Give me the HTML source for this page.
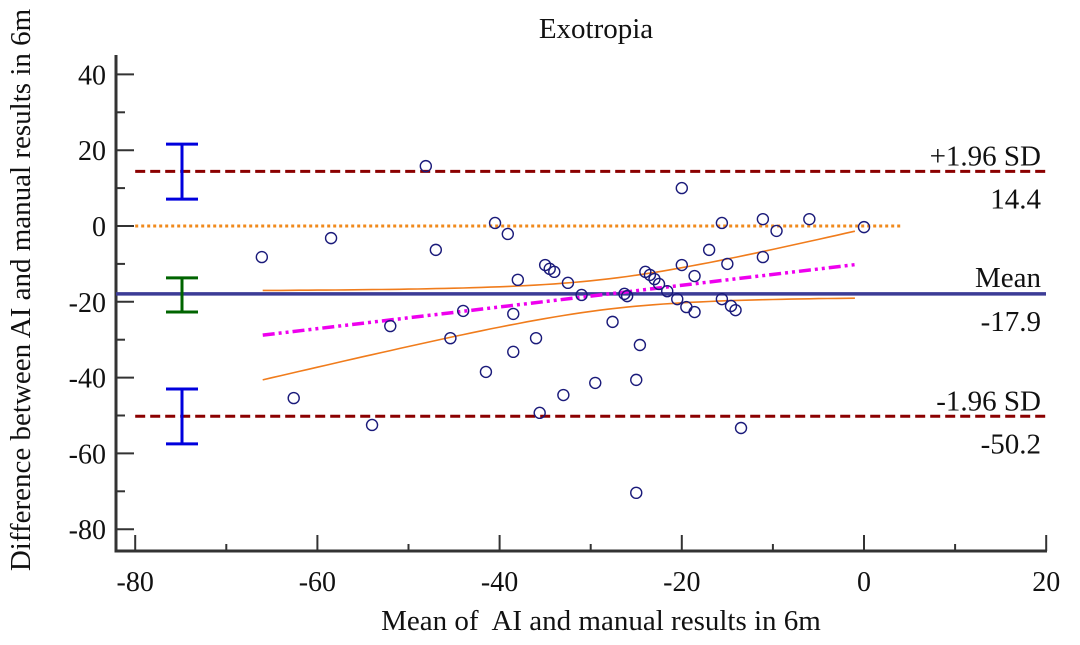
<!DOCTYPE html>
<html><head><meta charset="utf-8"><style>
html,body{margin:0;padding:0;background:#fff;}
svg{display:block;font-family:"Liberation Serif",serif;}
</style></head><body>
<svg id="chart" width="1080" height="645">
</svg>
<script>
const meanX=[-66.1,-62.6,-58.5,-54.0,-52.0,-48.1,-47.0,-45.4,-44.0,-41.5,-40.5,-39.1,-38.5,-38.5,-38.0,-36.0,-35.6,-35.0,-34.5,-34.0,-33.0,-32.5,-31.0,-29.5,-27.6,-26.3,-26.0,-25.0,-25.0,-24.6,-24.0,-23.5,-23.0,-22.5,-21.6,-20.5,-20.0,-20.0,-19.5,-18.6,-18.6,-17.0,-15.6,-15.6,-15.0,-14.6,-14.1,-13.5,-11.1,-11.1,-9.6,-6.0,0];
const diffY=[-8.2,-45.4,-3.2,-52.5,-26.4,15.8,-6.3,-29.6,-22.4,-38.5,0.8,-2.1,-23.2,-33.2,-14.2,-29.6,-49.3,-10.3,-11.3,-12.1,-44.6,-15.0,-18.2,-41.4,-25.3,-17.9,-18.5,-40.6,-70.4,-31.4,-12.1,-12.9,-14.0,-15.3,-17.2,-19.3,10.0,-10.3,-21.4,-22.7,-13.2,-6.3,0.8,-19.3,-10.0,-21.1,-22.2,-53.3,1.8,-8.2,-1.3,1.8,-0.3];
const meanDiff=-17.9, upperLoA=14.4, lowerLoA=-50.2;
const regStart=[-66,-28.8], regEnd=[-1,-10.2];
const ciBars=[[21.6,7.1,'#0000dd'],[-13.7,-22.7,'#006400'],[-43.0,-57.5,'#0000dd']];
const xTicks=[-80,-60,-40,-20,0,20];
const yTicks=[40,20,0,-20,-40,-60,-80];

const X=v=>864+v*9.11, Y=v=>226-v*3.79;
const svg=document.getElementById('chart');
const NS='http://www.w3.org/2000/svg';
function mk(tag,attrs,parent){const e=document.createElementNS(NS,tag);for(const k in attrs)e.setAttribute(k,attrs[k]);(parent||svg).appendChild(e);return e;}
function txt(s,x,y,anchor,size,extra){const t=mk('text',Object.assign({x:x,y:y,'text-anchor':anchor,'font-size':size+'px',fill:'#111'},extra||{}));t.textContent=s;return t;}

let e=mk('line',{x1:116,y1:55,x2:116,y2:551,stroke:'#333','stroke-width':3});

e=mk('line',{x1:114.5,y1:551,x2:1047,y2:551,stroke:'#333','stroke-width':3});

for(let v=-80;v<=40;v+=10){const major=v%20===0;
 e=mk('line',{x1:116,x2:major?134:125,y1:Y(v),y2:Y(v),stroke:'#333','stroke-width':2});
 }
for(let v=-80;v<=20;v+=10){const major=v%20===0;
 e=mk('line',{x1:X(v),x2:X(v),y1:551,y2:major?535:544,stroke:'#333','stroke-width':2});
 }
yTicks.forEach(v=>{e=txt(String(v),106,Y(v)+10,'end',28);
 });
xTicks.forEach(v=>{e=txt(String(v),X(v),591,'middle',28);
 });

e=mk('line',{x1:X(-80),x2:X(4),y1:Y(0),y2:Y(0),stroke:'#f08a1c','stroke-width':3,'stroke-dasharray':'3 3'});

[[upperLoA,'upper-loa-line'],[lowerLoA,'lower-loa-line']].forEach(([v,n])=>{
 e=mk('line',{x1:X(-80),x2:1046,y1:Y(v),y2:Y(v),stroke:'#8b0000','stroke-width':3,'stroke-dasharray':'10 5'});
 });
e=mk('line',{x1:116,x2:1046,y1:Y(meanDiff),y2:Y(meanDiff),stroke:'#3c3c96','stroke-width':3.5});


const b=(regEnd[1]-regStart[1])/(regEnd[0]-regStart[0]);
const a=regStart[1]-b*regStart[0];
const xm=-28, h0=4, k=0.292;
let up='',lo='';
for(let x=regStart[0];x<=regEnd[0]+0.01;x+=1){const c=a+b*x,h=Math.sqrt(h0*h0+k*k*(x-xm)*(x-xm));
 up+=(up?'L':'M')+X(x).toFixed(1)+','+Y(c+h).toFixed(1);lo+=(lo?'L':'M')+X(x).toFixed(1)+','+Y(c-h).toFixed(1);}
e=mk('path',{d:up,fill:'none',stroke:'#f07c1c','stroke-width':1.6});

e=mk('path',{d:lo,fill:'none',stroke:'#f07c1c','stroke-width':1.6});

e=mk('line',{x1:X(regStart[0]),y1:Y(regStart[1]),x2:X(regEnd[0]),y2:Y(regEnd[1]),stroke:'#ee00ee','stroke-width':3.5,'stroke-dasharray':'12 4 3 4 3 4'});


meanX.forEach((x,i)=>{e=mk('circle',{cx:X(x),cy:Y(diffY[i]),r:5.5,fill:'none',stroke:'#1a1a7a','stroke-width':1.4});
 });

ciBars.forEach(([hi,lw,col])=>{const g=mk('g',{stroke:col,'stroke-width':3});
 
 mk('line',{x1:182,x2:182,y1:Y(hi),y2:Y(lw)},g);
 mk('line',{x1:166,x2:198,y1:Y(hi),y2:Y(hi)},g);
 mk('line',{x1:166,x2:198,y1:Y(lw),y2:Y(lw)},g);});

[['+1.96 SD',upperLoA,-6,'upper-loa-label'],[upperLoA.toFixed(1),upperLoA,37,'upper-loa-value'],
 ['Mean',meanDiff,-7,'mean-label'],[meanDiff.toFixed(1),meanDiff,37,'mean-value'],
 ['-1.96 SD',lowerLoA,-6,'lower-loa-label'],[lowerLoA.toFixed(1),lowerLoA,37,'lower-loa-value']].forEach(([s,v,d,n])=>{
 e=txt(s,1041,Y(v)+d,'end',29);});
e=txt('Exotropia',596,38,'middle',29);
e=txt('Mean of\u00a0 AI and manual results in 6m',601,630,'middle',29);

e=txt('Difference between AI and manual results in 6m',0,0,'middle',29,{transform:'translate(30,290) rotate(-90)'});

</script>
</body></html>
